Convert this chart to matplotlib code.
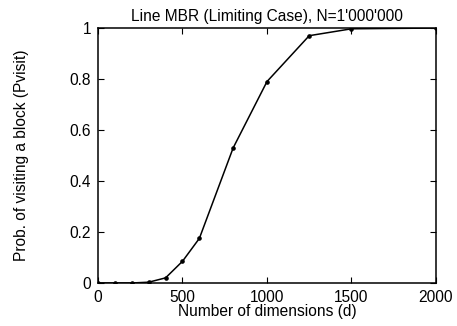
import numpy as np
import matplotlib
matplotlib.use('Agg')
import matplotlib.pyplot as plt

plt.rcParams['font.family'] = ['Liberation Sans', 'DejaVu Sans']

# dimensions vs probability of visiting a block
dims = [0, 100, 200, 300, 400, 500, 600, 800, 1000, 1250, 1500, 2000]
pvisit = [0.0, 0.0, 0.0, 0.003, 0.02, 0.085, 0.175, 0.53, 0.79, 0.97, 0.997, 1.0]

xticks = [0, 500, 1000, 1500, 2000]
yticks = [0, 0.2, 0.4, 0.6, 0.8, 1]
ytick_labels = ['0', '0.2', '0.4', '0.6', '0.8', '1']

fig = plt.figure(figsize=(4.57, 3.26), dpi=100)
ax = fig.add_axes([0.2144, 0.132, 0.7396, 0.782])

ax.plot(dims, pvisit, color='black', linewidth=1.1, marker='o', markersize=2.3)

ax.set_xlim(0, 2000)
ax.set_ylim(0, 1)
ax.set_xticks(xticks)
ax.set_xticklabels([str(t) for t in xticks])
ax.set_yticks(yticks)
ax.set_yticklabels(ytick_labels)
ax.tick_params(direction='in', top=True, right=True, length=4, labelsize=11.2, pad=5)
for s in ax.spines.values():
    s.set_linewidth(1.1)

ax.set_title("Line MBR (Limiting Case), N=1'000'000", fontsize=11.2, pad=5)
ax.set_xlabel('Number of dimensions (d)', fontsize=11.2, labelpad=-1)
ax.set_ylabel('Prob. of visiting a block (Pvisit)', fontsize=11.2, labelpad=29)

fig.savefig('out.png', dpi=100)
